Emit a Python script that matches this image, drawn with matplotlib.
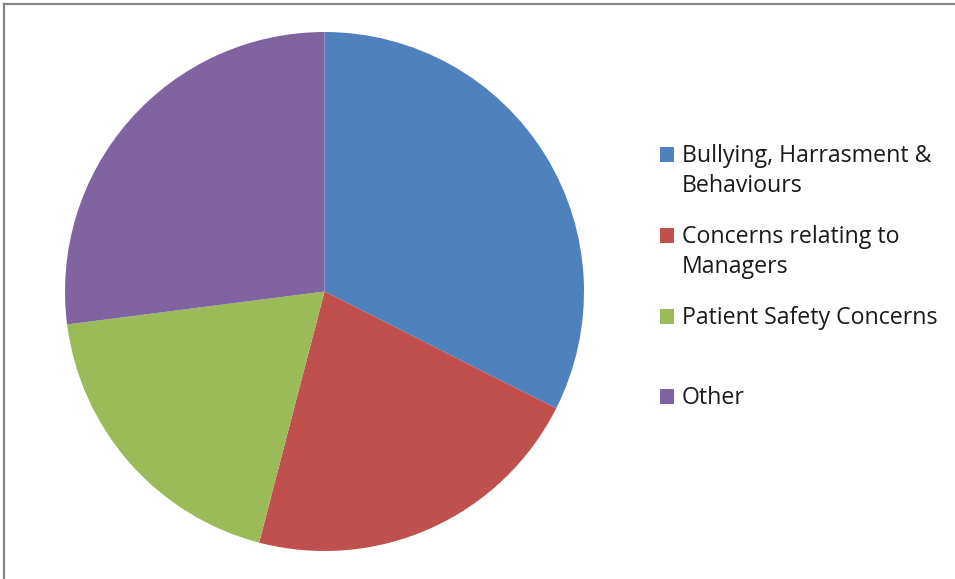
import matplotlib
matplotlib.use('Agg')
import matplotlib.pyplot as plt
from matplotlib.patches import Rectangle
from matplotlib.lines import Line2D

# data (approximate counts)
categories = ['Bullying, Harrasment &\nBehaviours', 'Concerns relating to\nManagers',
              'Patient Safety Concerns', 'Other']
values = [36, 24, 21, 30]
colors = ['#4F81BD', '#C0504D', '#9BBB59', '#8064A2']

plt.rcParams['font.family'] = ['Open Sans', 'DejaVu Sans']

W, H = 955, 579
fig = plt.figure(figsize=(W / 100, H / 100), dpi=100)
fig.patch.set_facecolor('white')

# pie axes: centre ~ (324.5, 291.5) px, radius ~259.5 px
cx, cy, r = 324.5, 291.5, 259.5
ax = fig.add_axes([(cx - r) / W, (H - cy - r) / H, 2 * r / W, 2 * r / H])
ax.pie(values, colors=colors, startangle=90, counterclock=False,
       radius=1, wedgeprops=dict(linewidth=0))
ax.set_xlim(-1, 1)
ax.set_ylim(-1, 1)
ax.set_aspect('equal')
ax.axis('off')

# pick a font size so the longest legend line is ~256 px wide
renderer = fig.canvas.get_renderer()
probe = fig.text(0, 0, 'Patient Safety Concerns', fontsize=15)
fs = 15 * 256 / probe.get_window_extent(renderer).width
probe.remove()

# legend drawn by hand (baseline of first line of each entry, px from top)
baselines = [162, 243, 324, 404]
for lab, col, yb in zip(categories, colors, baselines):
    fig.add_artist(Rectangle((660 / W, (H - yb) / H), 14 / W, 15 / H,
                             transform=fig.transFigure, color=col, linewidth=0))
    for k, line in enumerate(lab.split('\n')):
        fig.text(682 / W, (H - yb - 30 * k) / H, line, fontsize=fs, color='#1a1a1a',
                 va='baseline', ha='left')

# grey chart border on the left and top
fig.add_artist(Line2D([4 / W, 4 / W], [0, (H - 4) / H], color='#868686', linewidth=1.6,
                      transform=fig.transFigure))
fig.add_artist(Line2D([4 / W, 1], [(H - 4) / H, (H - 4) / H], color='#868686', linewidth=1.6,
                      transform=fig.transFigure))

fig.savefig('out.png', dpi=100)
